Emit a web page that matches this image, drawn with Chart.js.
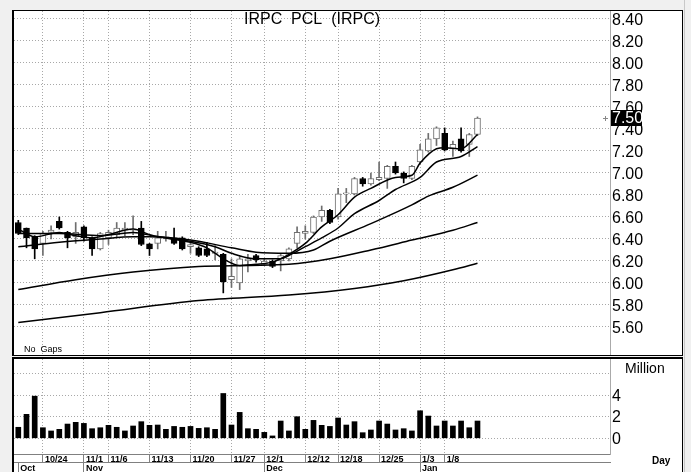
<!DOCTYPE html>
<html>
<head>
<meta charset="utf-8">
<script src="https://cdn.jsdelivr.net/npm/chart.js@4.4.1/dist/chart.umd.min.js"></script>
<style>
  body { margin:0; background:#f0f0f0; width:691px; height:472px; overflow:hidden; position:relative; }
  #pricebox { position:absolute; left:12px; top:10px; width:671px; height:346px; box-sizing:border-box;
              border:1px solid #000; border-left:2px solid #000; background:#fff; }
  #volbox { position:absolute; left:12px; top:357px; width:671px; height:115px; box-sizing:border-box;
            border-top:2px solid #000; border-left:2px solid #000; border-right:1px solid #000; background:#fff; }
  #edge { position:absolute; left:684px; top:0; width:1px; height:472px; background:#c8c8c8; }
  canvas { display:block; }
</style>
</head>
<body>
<div id="pricebox"><canvas id="price" width="668" height="344"></canvas></div>
<div id="volbox"><canvas id="vol" width="668" height="113"></canvas></div>
<div id="edge"></div>
<script>
// trading days
const dates = ['10/18','10/19','10/20','10/24','10/25','10/27','10/30','10/31','11/1','11/2',
  '11/3','11/6','11/7','11/8','11/9','11/10','11/13','11/14','11/15','11/16',
  '11/17','11/20','11/21','11/22','11/23','11/24','11/27','11/28','11/29','11/30',
  '12/1','12/4','12/6','12/7','12/8','12/12','12/13','12/14','12/15','12/18',
  '12/19','12/20','12/21','12/22','12/25','12/26','12/27','12/28','12/29','1/3',
  '1/4','1/5','1/8','1/9','1/10','1/11','1/12'];

const open  = [6.55,6.50,6.42,6.36,6.46,6.56,6.46,6.42,6.51,6.41, 6.31,6.41,6.44,6.48,6.48,6.50,6.355,6.36,6.40,6.41,
               6.41,6.33,6.32,6.31,6.27,6.26,6.03,6.00,6.20,6.25, 6.17,6.20,6.20,6.22,6.36,6.45,6.46,6.60,6.66,6.60,
               6.81,6.81,6.95,6.90,6.94,6.95,7.06,7.00,6.95,7.10, 7.20,7.31,7.36,7.22,7.31,7.26,7.35];
const high  = [6.57,6.50,6.43,6.47,6.52,6.60,6.47,6.55,6.52,6.42, 6.46,6.48,6.55,6.55,6.61,6.56,6.36,6.47,6.47,6.50,
               6.42,6.38,6.33,6.37,6.34,6.27,6.22,6.24,6.26,6.26, 6.22,6.21,6.26,6.32,6.51,6.52,6.61,6.70,6.67,6.86,
               6.86,6.96,6.96,7.00,7.10,7.07,7.10,7.01,7.07,7.26, 7.36,7.42,7.41,7.29,7.41,7.36,7.51];
const low   = [6.44,6.32,6.22,6.25,6.40,6.49,6.32,6.36,6.38,6.25, 6.30,6.35,6.42,6.43,6.44,6.34,6.25,6.31,6.38,6.35,
               6.30,6.27,6.24,6.24,6.21,5.91,5.96,5.94,6.10,6.19, 6.16,6.14,6.11,6.20,6.32,6.40,6.45,6.56,6.54,6.58,
               6.73,6.80,6.88,6.89,6.93,6.86,6.99,6.91,6.94,7.08, 7.19,7.25,7.20,7.15,7.19,7.15,7.34];
const close = [6.45,6.41,6.31,6.45,6.48,6.50,6.41,6.46,6.41,6.31, 6.45,6.46,6.50,6.50,6.49,6.35,6.31,6.41,6.42,6.36,
               6.31,6.35,6.25,6.25,6.28,6.01,6.06,6.22,6.22,6.21, 6.20,6.15,6.25,6.31,6.46,6.47,6.60,6.66,6.55,6.81,
               6.82,6.95,6.90,6.95,6.96,7.06,7.00,6.95,7.06,7.21, 7.31,7.41,7.21,7.26,7.20,7.35,7.50];

// volume, million shares
const volume = [1.02,2.22,3.9,0.98,0.68,0.83,1.32,1.48,1.38,0.89, 0.98,1.2,1.02,0.68,1.14,1.54,1.2,1.23,0.83,1.1,
                1.02,1.1,0.92,0.98,0.83,4.15,1.23,2.4,0.89,0.83, 0.55,0.22,1.6,0.68,2.0,0.83,1.66,1.2,1.1,1.88,
                1.23,1.54,0.52,0.77,1.6,1.32,0.77,0.89,0.68,2.55, 2.06,1.14,1.6,1.14,1.6,0.98,1.6];

// moving averages (day index -> value)
const maFastIdx = [0,2,5,7,9,11,14,16,18,21,23,25,27,29,31,32,33,35,37,39,41,43,46,48,49,51,52,54,56];
const maFast    = [6.49,6.42,6.46,6.43,6.41,6.44,6.49,6.44,6.41,6.37,6.32,6.22,6.16,6.17,6.19,6.22,6.26,6.36,6.51,6.62,6.78,6.86,6.96,6.98,7.09,7.22,7.23,7.22,7.35];
const maMidIdx  = [0,5,10,14,17,21,24,26,29,32,33,35,37,39,41,44,46,49,51,54,56];
const maMid     = [6.45,6.45,6.43,6.46,6.42,6.38,6.33,6.27,6.22,6.22,6.25,6.33,6.41,6.50,6.63,6.75,6.85,6.96,7.10,7.15,7.24];
const maSlowIdx = [0,5,10,14,16,21,26,29,33,36,38,43,48,50,53,56];
const maSlow    = [6.33,6.37,6.40,6.42,6.42,6.39,6.32,6.28,6.27,6.30,6.38,6.54,6.71,6.79,6.87,6.98];
const maLongIdx = [0,7,14,22,28,33,38,43,48,53,56];
const maLong    = [5.94,6.03,6.10,6.15,6.16,6.17,6.22,6.30,6.39,6.48,6.55];
const maVLongIdx = [0,10,22,33,41,47,53,56];
const maVLong    = [5.64,5.73,5.84,5.89,5.95,6.02,6.12,6.18];

// axis ticks
const priceTicks = [5.6,5.8,6.0,6.2,6.4,6.6,6.8,7.0,7.2,7.4,7.6,7.8,8.0,8.2,8.4];
const volTicks = [0,2,4,6];
const volTickLabels = ['0','2','4',''];
const dateTickLabels = ['10/24','11/1','11/6','11/13','11/20','11/27','12/1','12/12','12/18','12/25','1/3','1/8'];
const monthLabels = ['Oct','Nov','Dec','Jan'];
const monthFirstDay = ['10/18','11/1','12/1','1/3'];

const dateTickIdx = dateTickLabels.map(d => dates.indexOf(d));
const monthIdx = monthFirstDay.map(d => dates.indexOf(d));

const FONT = '"Liberation Sans", Arial, sans-serif';
const GRID = '#a8a8a8';
const UP = '#6e6e6e';
const X_MIN = -0.524, X_MAX = 72.16;

function pts(idx, vals) { return idx.map((d, k) => ({ x: d, y: vals[k] })); }
const isUp = i => close[i] >= open[i];

function maLine(idx, vals) {
  return { type: 'line', data: pts(idx, vals), borderColor: '#000', borderWidth: 1.5,
           pointRadius: 0, cubicInterpolationMode: 'monotone', order: 1 };
}

// no label overhang padding, keep plot area on the frame
function noPad(s) { s.paddingTop = 0; s.paddingBottom = 0; s.paddingLeft = 0; s.paddingRight = 0; }

const priceDecor = {
  id: 'priceDecor',
  afterDraw(chart) {
    const { ctx, chartArea, scales } = chart;
    ctx.save();
    ctx.fillStyle = '#000';
    ctx.font = '16px ' + FONT;
    ctx.textAlign = 'center';
    ctx.textBaseline = 'middle';
    ctx.fillText('IRPC  PCL  (IRPC)', 298, 9);

    ctx.font = '9px ' + FONT;
    ctx.textAlign = 'left';
    ctx.fillText('No  Gaps', 10, 339);

    const last = close[close.length - 1];
    const y = Math.round(scales.y.getPixelForValue(last));
    const x = chartArea.right + 1;
    ctx.fillRect(x, y - 8, 31, 16);
    ctx.fillStyle = '#fff';
    ctx.font = '16px ' + FONT;
    ctx.fillText(last.toFixed(2), x + 1, y + 1);

    ctx.strokeStyle = '#888';
    ctx.lineWidth = 1;
    ctx.beginPath();
    ctx.moveTo(chartArea.right - 7, y + 0.5); ctx.lineTo(chartArea.right - 2, y + 0.5);
    ctx.moveTo(chartArea.right - 4.5, y - 2); ctx.lineTo(chartArea.right - 4.5, y + 3);
    ctx.stroke();
    ctx.restore();
  }
};

new Chart(document.getElementById('price'), {
  type: 'bar',
  data: {
    datasets: [
      { data: dates.map((d, i) => ({ x: i, y: [low[i], high[i]] })), barThickness: 1, grouped: false,
        backgroundColor: c => isUp(c.dataIndex) ? UP : '#000', order: 3 },
      { data: dates.map((d, i) => ({ x: i, y: [open[i], close[i]] })), barThickness: 6, grouped: false,
        backgroundColor: c => isUp(c.dataIndex) ? '#fff' : '#000',
        borderColor: c => isUp(c.dataIndex) ? UP : '#000',
        borderWidth: 1, borderSkipped: false, order: 2 },
      maLine(maFastIdx, maFast),
      maLine(maMidIdx, maMid),
      maLine(maSlowIdx, maSlow),
      maLine(maLongIdx, maLong),
      maLine(maVLongIdx, maVLong)
    ]
  },
  options: {
    responsive: false, animation: false, events: [],
    layout: { padding: 0 },
    plugins: { legend: { display: false }, tooltip: { enabled: false } },
    scales: {
      x: { type: 'linear', min: X_MIN, max: X_MAX, offset: false,
           afterBuildTicks: s => { s.ticks = dateTickIdx.map(v => ({ value: v })); },
           afterFit: noPad,
           ticks: { display: false },
           grid: { color: GRID, drawTicks: false, offset: false },
           border: { display: false, dash: [1, 2] } },
      y: { position: 'right', min: 5.345454, max: 8.472727,
           afterBuildTicks: s => { s.ticks = priceTicks.map(v => ({ value: v })); },
           afterFit: s => { s.width = 72; noPad(s); },
           ticks: { autoSkip: false, padding: 2, labelOffset: 2, color: '#000', font: { family: FONT, size: 16 },
                    callback: v => v.toFixed(2) },
           grid: { color: GRID, drawTicks: false },
           border: { display: true, color: '#aaa', dash: [1, 2] } }
    }
  },
  plugins: [priceDecor]
});

const volDecor = {
  id: 'volDecor',
  afterDraw(chart) {
    const { ctx } = chart;
    ctx.save();
    ctx.fillStyle = '#000';
    ctx.textAlign = 'left';
    ctx.textBaseline = 'middle';
    ctx.font = '14px ' + FONT;
    ctx.fillText('Million', 611, 10);
    ctx.font = 'bold 10px ' + FONT;
    ctx.fillText('Day', 638, 102);
    ctx.restore();
  }
};

new Chart(document.getElementById('vol'), {
  type: 'bar',
  data: {
    datasets: [
      { data: volume.map((v, i) => ({ x: i, y: v })), barThickness: 5, grouped: false, backgroundColor: '#000' }
    ]
  },
  options: {
    responsive: false, animation: false, events: [],
    layout: { padding: 0 },
    plugins: { legend: { display: false }, tooltip: { enabled: false } },
    scales: {
      x: { type: 'linear', position: 'bottom', weight: 0, min: X_MIN, max: X_MAX, offset: false,
           afterBuildTicks: s => { s.ticks = dateTickIdx.map(v => ({ value: v })); },
           afterFit: s => { s.height = 8; noPad(s); },
           ticks: { autoSkip: false, maxRotation: 0, align: 'start', padding: -8, labelOffset: 2, color: '#000',
                    font: { family: FONT, size: 9, weight: 'bold' },
                    callback: (v, i) => dateTickLabels[i] },
           grid: { color: GRID, offset: false, drawTicks: true, tickLength: 8, tickColor: '#808080', tickBorderDash: [] },
           border: { display: true, color: '#808080', dash: [1, 2] } },
      x2: { type: 'linear', position: 'bottom', weight: 1, min: X_MIN, max: X_MAX, offset: false,
           afterBuildTicks: s => { s.ticks = monthIdx.map(v => ({ value: v })); },
           afterFit: s => { s.height = 10; noPad(s); },
           ticks: { autoSkip: false, maxRotation: 0, align: 'start', padding: -9, labelOffset: 2, color: '#000',
                    font: { family: FONT, size: 9, weight: 'bold' },
                    callback: (v, i) => monthLabels[i] },
           grid: { drawOnChartArea: false, offset: false, drawTicks: true, tickLength: 10, tickColor: '#808080', tickBorderDash: [] },
           border: { display: true, color: '#808080' } },
      y: { position: 'right', min: -1.454, max: 7.343,
           afterBuildTicks: s => { s.ticks = volTicks.map(v => ({ value: v })); },
           afterFit: s => { s.width = 72; noPad(s); },
           ticks: { autoSkip: false, padding: 2, labelOffset: 1, color: '#000', font: { family: FONT, size: 16 },
                    callback: (v, i) => volTickLabels[i] },
           grid: { color: GRID, drawTicks: false },
           border: { display: true, color: '#aaa', dash: [1, 2] } }
    }
  },
  plugins: [volDecor]
});
</script>
</body>
</html>
